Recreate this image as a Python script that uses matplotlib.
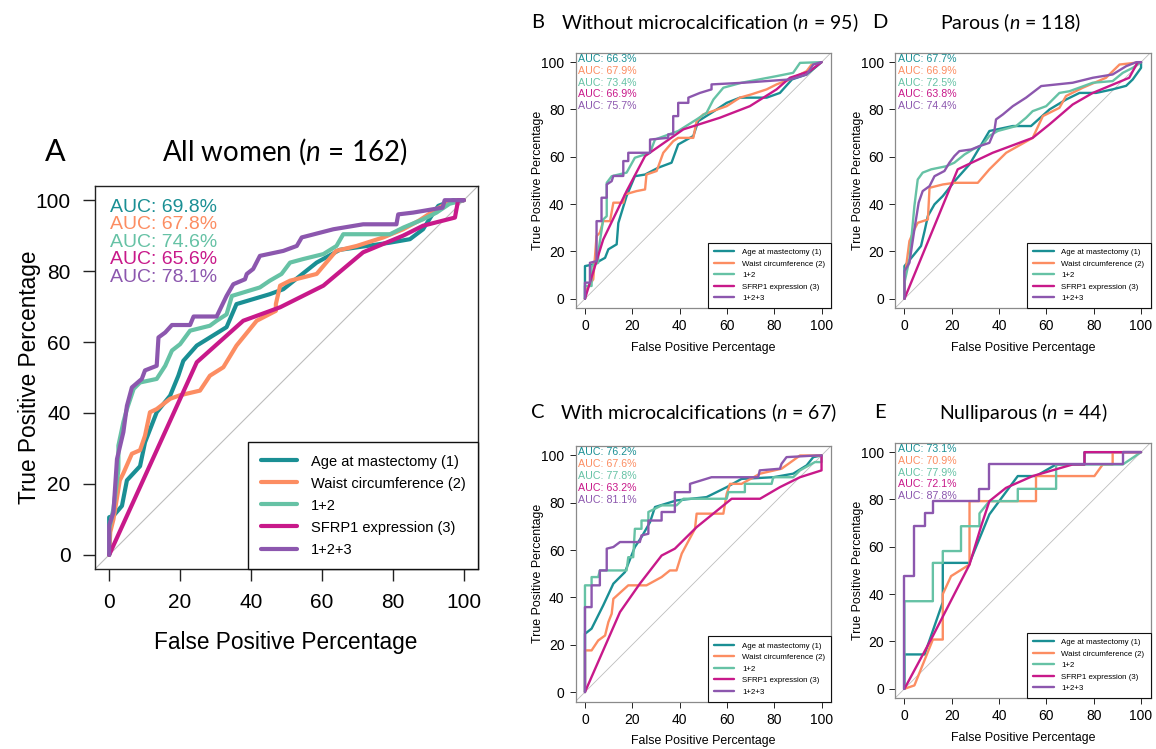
import matplotlib
matplotlib.use("Agg")
import matplotlib.pyplot as plt

W, H = 1156, 749
plt.rcParams["font.family"] = ["Liberation Sans", "DejaVu Sans"]
plt.rcParams["mathtext.fontset"] = "custom"
plt.rcParams["mathtext.rm"] = "Lato"
plt.rcParams["mathtext.it"] = "Lato:italic"

NAMES = ["Age at mastectomy (1)", "Waist circumference (2)", "1+2", "SFRP1 expression (3)", "1+2+3"]
COLORS = ["#1a8f94", "#fc8d62", "#66c2a5", "#c8198a", "#8c57ae"]
TICKS = [0, 20, 40, 60, 80, 100]

# ---- A: all women (n = 162) ----
a_age_x = [0, 0, 1.2, 3.6, 5, 8.7, 10.1, 13.4, 17.2, 19.5, 20.9, 24.7, 33.1, 35.9, 45.3, 49.1, 58.5, 65, 79, 84.8, 88.5, 90.9, 92.8, 97, 100]
a_age_y = [0, 10.6, 11, 13.8, 21, 25, 31.7, 40.2, 44.9, 50.5, 54.7, 59, 64.2, 70.7, 73.5, 74.9, 82.4, 86, 88, 89, 91.8, 95.6, 98.4, 100, 100]
a_waist_x = [0, 0.3, 1.2, 3, 4, 6.4, 8.7, 10.1, 11.5, 13.4, 17.2, 20, 25.6, 28.4, 32.2, 35.9, 41.6, 47, 47, 48.2, 51, 58.5, 64, 69.8, 77.3, 82.9, 87.3, 92.3, 95, 98, 100]
a_waist_y = [0, 6.4, 10, 21, 23, 28.5, 29.5, 33.6, 40.2, 41.1, 44, 45, 46.3, 50.5, 52.9, 59, 66, 68.8, 70.7, 75.9, 77.3, 79.2, 85.7, 87.1, 89.5, 91.8, 94.2, 97.5, 99, 100, 100]
a_c12_x = [0, 0, 1.2, 2.6, 2.6, 4, 5, 6.9, 8.7, 13.4, 15.8, 17.7, 20, 22.8, 28.4, 30.3, 33.1, 34.6, 42.5, 45.3, 48.6, 51, 54.7, 60.4, 64.1, 66, 79.2, 83, 88.5, 92.3, 96, 100]
a_c12_y = [0, 7.3, 13, 24, 30.8, 37.4, 41.1, 46.8, 48.6, 49.6, 53.3, 57.6, 59.4, 63.2, 64.6, 66, 67.8, 73, 75.4, 77.3, 79.2, 82.4, 83.4, 84.8, 87.1, 90.4, 90.4, 92.3, 94.6, 96.5, 99, 100]
a_sfrp_x = [0, 24.7, 37.8, 48.2, 60.4, 71.6, 82.9, 88.5, 97.5, 98.4, 100]
a_sfrp_y = [0, 54.3, 66, 69.8, 75.9, 85.3, 90, 92.8, 95.1, 100, 100]
a_c123_x = [0, 0, 1.2, 2.2, 4, 5, 6.4, 9.2, 10.1, 13.4, 13.9, 15.8, 17.7, 22.8, 23.8, 30.3, 33.1, 35, 38.3, 38.8, 40.6, 42.5, 49.1, 52.9, 54.3, 63.2, 71.6, 81, 81.5, 85.7, 94, 94.6, 100]
a_c123_y = [0, 8.3, 12, 27, 34.6, 42, 47.2, 49.6, 52, 53.3, 61.3, 62.7, 64.8, 64.8, 67.2, 67.2, 73, 76.3, 77.7, 79.2, 80.6, 84.3, 85.7, 87.1, 89.5, 91.8, 93.2, 93.2, 96, 96.5, 97.9, 100, 100]
a_auc = [69.8, 67.8, 74.6, 65.6, 78.1]

# ---- B: without microcalcification (n = 95) ----
b_age_x = [0, 0, 3.5, 8.5, 9.9, 13.4, 14.1, 17.6, 21.1, 25.4, 31, 36.6, 39.4, 45.8, 47.9, 53.5, 59.9, 65.5, 76.8, 82.4, 87.5, 93.7, 98, 100]
b_age_y = [0, 13.8, 14.5, 17.3, 20.9, 23, 32, 43.4, 51.8, 52.5, 55.4, 57.5, 65.2, 68.8, 75.1, 78.6, 82.8, 85, 85, 87, 92.7, 94.8, 98.3, 100]
b_waist_x = [0, 0.7, 3.5, 4.9, 6.3, 7.7, 10.6, 12, 16.2, 16.9, 21.8, 25.4, 26, 30.3, 33.1, 37.3, 39.4, 45.8, 47.2, 50, 59.9, 65.5, 70.4, 76.8, 81, 86.6, 93.7, 95.8, 100]
b_waist_y = [0, 4, 8.2, 26.5, 27.9, 32.8, 32.8, 40.6, 40.6, 44.1, 45.5, 46.2, 52.5, 54, 61.7, 66.6, 68, 68, 75.1, 77.9, 81.4, 85, 86.4, 88.5, 90.6, 92.7, 96.2, 99, 100]
b_c12_x = [0, 0, 2.8, 2.8, 5.6, 5.6, 7.7, 9.2, 9.2, 11.3, 17.6, 21.1, 27.5, 29.6, 39.4, 47.2, 51.4, 54.3, 58.5, 66.2, 81, 88, 90.9, 100]
b_c12_y = [0, 5.4, 5.4, 13.8, 15.2, 19.4, 33.5, 34.9, 49, 51.8, 53.3, 59.6, 61.7, 67.3, 70.9, 75.8, 78.6, 84.2, 89.2, 91.3, 94.1, 95.5, 99.7, 100]
b_sfrp_x = [0, 7.7, 17.6, 25.4, 41.6, 57, 69.7, 81, 86.6, 95, 100]
b_sfrp_y = [0, 25, 45.5, 60.3, 71.6, 76.5, 81.4, 88.5, 93.4, 96.2, 100]
b_c123_x = [0, 0, 2.1, 2.1, 4.9, 4.9, 7, 7, 9.2, 9.2, 11.3, 12, 16.2, 16.2, 18.3, 18.3, 27.5, 27.5, 35.2, 35.2, 37.3, 37.3, 39.4, 39.4, 43.7, 43.7, 48.6, 53.5, 53.5, 66.9, 86.6, 93.7, 96.5, 100]
b_c123_y = [0, 6.8, 6.8, 15.2, 15.9, 32.8, 32.8, 42.7, 42.7, 48.3, 49.7, 51.9, 51.9, 58.2, 58.2, 61.7, 61.7, 67.3, 68, 69.5, 69.5, 77.2, 77.2, 82.8, 82.8, 85, 87, 88.5, 90.6, 91.3, 92.7, 94.8, 99, 100]
b_auc = [66.3, 67.9, 73.4, 66.9, 75.7]

# ---- C: with microcalcifications (n = 67) ----
c_age_x = [0, 0, 2.8, 7.7, 12, 16.9, 21.1, 23.9, 27.5, 29.6, 38.7, 51.4, 59.9, 66.2, 79.6, 88, 93.7, 96.5, 100]
c_age_y = [0, 24.6, 26.8, 36.6, 45.8, 50.7, 61.3, 65.5, 71.8, 78.2, 81, 82.4, 86.6, 90.1, 90.8, 92.3, 95.8, 99.3, 100]
c_waist_x = [0, 0, 2.8, 5.6, 8.5, 9.9, 11.3, 12, 18.3, 26, 32.4, 35.9, 38.7, 40.9, 46.5, 47.2, 58.5, 59.9, 61.3, 66.2, 74, 83.1, 88, 90.9, 100]
c_waist_y = [0, 17.6, 17.6, 21.8, 23.9, 29.6, 33.1, 39.4, 45.1, 45.1, 48.6, 51.4, 51.4, 58.5, 69, 75.4, 75.4, 83.8, 88, 88, 92.3, 94.4, 97.9, 100, 100]
c_c12_x = [0, 0, 2.8, 2.8, 5.6, 6.3, 17.6, 18.3, 20.4, 21.1, 23.9, 23.9, 26.8, 26.8, 32.4, 38.7, 41.6, 59.9, 60.6, 67.6, 67.6, 78.9, 79.6, 88, 90.9, 97.2, 100, 100]
c_c12_y = [0, 45.1, 45.1, 48.6, 48.6, 51.4, 51.4, 57, 57, 69, 69, 72.5, 72.5, 76.1, 78.9, 78.9, 81.7, 81.7, 84.5, 84.5, 88, 88, 90.8, 90.8, 93.7, 97.2, 97.2, 100]
c_sfrp_x = [0, 14.8, 23.2, 32.4, 38, 47.2, 62, 74, 82.4, 90.9, 100, 100]
c_sfrp_y = [0, 33.8, 45.8, 57.7, 60.6, 69.7, 81.7, 81.7, 86.6, 90.8, 93.7, 100]
c_c123_x = [0, 0, 2.8, 2.8, 6.3, 6.3, 9.2, 9.2, 12, 14.8, 23.2, 23.9, 26.8, 26.8, 32.4, 32.4, 38, 38, 44.4, 44.4, 53.5, 73.2, 73.9, 82.4, 83.1, 85.2, 98, 100]
c_c123_y = [0, 35.9, 35.9, 45.1, 45.1, 51.4, 51.4, 60.6, 61.3, 63.4, 63.4, 66.2, 66.9, 72.5, 72.5, 76.1, 76.1, 84.5, 84.5, 88, 90.8, 90.8, 93.7, 94.4, 96.5, 99.3, 100, 100]
c_auc = [76.2, 67.6, 77.8, 63.2, 81.1]

# ---- D: parous (n = 118) ----
d_age_x = [0, 0, 3.5, 7, 8.5, 9.9, 12.7, 16.2, 21.8, 27.5, 35.9, 45.8, 53.5, 61.3, 68.3, 74, 81, 88, 93.7, 96.5, 100, 100]
d_age_y = [0, 13.8, 18, 22.3, 28.6, 35, 39.9, 43.4, 50.4, 56.8, 70.9, 73, 73, 80, 84.2, 87, 87, 88.5, 90, 92.7, 97.6, 100]
d_waist_x = [0, 0, 2.1, 4.2, 5.6, 9.9, 10.6, 16.2, 21.1, 31, 35.9, 43, 54.2, 58.5, 65.5, 68.3, 75.4, 85.2, 90.9, 100]
d_waist_y = [0, 8.2, 24.4, 29.3, 32.1, 33.5, 46.9, 48.3, 49, 49, 54.7, 61.7, 68, 77.2, 80.7, 85.7, 89.2, 93.4, 99, 100]
d_c12_x = [0, 0, 2.1, 4.2, 5.6, 7.7, 11.3, 17.6, 21.1, 25.4, 28.9, 33.1, 35.9, 39.4, 47.2, 51.4, 54.2, 59.9, 65.5, 69.7, 79.6, 88, 92.3, 96.5, 100]
d_c12_y = [0, 6.8, 16.6, 39.2, 50.4, 53.3, 54.7, 56, 57.5, 61, 63.1, 65.2, 68.8, 70.9, 73, 76.5, 79.3, 81.4, 87, 87.7, 91.3, 92, 95.5, 97.6, 100]
d_sfrp_x = [0, 22.5, 37.3, 54.2, 61.3, 71.1, 79.6, 95, 98.6, 100]
d_sfrp_y = [0, 54.7, 61.7, 68, 73.7, 82.1, 87, 93.4, 100, 100]
d_c123_x = [0, 0, 2.1, 4.2, 6, 7.7, 10.6, 12.7, 16.9, 19, 21.1, 23.2, 28.2, 31.7, 35.9, 38, 38.7, 41.6, 45.8, 51.4, 57.8, 71.1, 79.6, 88, 93.7, 98, 100]
d_c123_y = [0, 11.7, 15.2, 29.3, 40.6, 45.5, 47.6, 51.8, 54, 57.5, 60.3, 62.4, 63.1, 64.5, 65.9, 70.9, 75.8, 77.9, 81.4, 85, 89.9, 91.3, 93.4, 94.8, 98.3, 100, 100]
d_auc = [67.7, 66.9, 72.5, 63.8, 74.4]

# ---- E: nulliparous (n = 44) ----
e_age_x = [0, 0, 8.5, 16.2, 16.2, 27.5, 35.9, 47.9, 55.6, 64.1, 76.1, 76.1, 100]
e_age_y = [0, 14.5, 14.5, 36.6, 53.2, 53.2, 73.7, 89.9, 89.9, 94.8, 94.8, 100, 100]
e_waist_x = [0, 4.2, 12, 16.2, 16.2, 19.7, 27.5, 27.5, 55.6, 55.6, 80.3, 83.8, 88, 88, 100]
e_waist_y = [0, 1.4, 20.8, 20.8, 40, 47.6, 52.5, 79.3, 79.3, 89.9, 89.9, 94.8, 94.8, 100, 100]
e_c12_x = [0, 0, 12, 12, 16.2, 16.2, 23.9, 23.9, 31.7, 31.7, 35.9, 47.9, 47.9, 64.1, 64.1, 92.3, 100]
e_c12_y = [0, 37, 37, 53.2, 53.2, 58.2, 58.2, 68.7, 68.7, 74.1, 79.3, 79.3, 84.5, 84.5, 94.8, 94.8, 100]
e_sfrp_x = [0, 12, 27.5, 32.4, 35.9, 42.9, 54.2, 71.1, 76.1, 76.1, 100]
e_sfrp_y = [0, 22.3, 52.5, 68.7, 79.3, 84.9, 89.9, 94.8, 94.8, 100, 100]
e_c123_x = [0, 0, 4.2, 4.2, 8.5, 8.5, 12, 12, 31.7, 31.7, 35.9, 35.9, 92.3, 92.3, 100]
e_c123_y = [0, 47.6, 47.6, 68.7, 68.7, 74.1, 74.1, 79.3, 79.3, 84.5, 84.5, 95.1, 95.1, 100, 100]
e_auc = [73.1, 70.9, 77.9, 72.1, 87.8]


def box(x0, y0, x1, y1):
    """pixel box (top-left origin) -> figure-fraction rect"""
    return [x0 / W, 1 - y1 / H, (x1 - x0) / W, (y1 - y0) / H]


def fxy(x, y):
    return x / W, 1 - y / H


def panel(ax, curves, aucs, big):
    lw = 3.0 if big else 1.7
    ax.set_xlim(-4, 104); ax.set_ylim(-4, 104)
    ax.plot([-4, 104], [-4, 104], color="#bdbdbd", lw=0.8 if big else 0.6, zorder=1)
    for (x, y), c, name in zip(curves, COLORS, NAMES):
        ax.plot(x, y, color=c, lw=lw, label=name, solid_joinstyle="round", solid_capstyle="round", zorder=2)
    for i, (v, c) in enumerate(zip(aucs, COLORS)):
        if big:
            ax.text(0.3, 98 - 4.95 * i, f"AUC: {v:.1f}%", color=c, fontsize=14, va="center", ha="left")
        else:
            ax.text(-2.9, 101.5 - 5.05 * i, f"AUC: {v:.1f}%", color=c, fontsize=7.7, va="center", ha="left")
    ax.set_xticks(TICKS); ax.set_yticks(TICKS)
    spine = "#222222" if big else "#8a8a8a"
    for sp in ax.spines.values():
        sp.set_color(spine); sp.set_linewidth(1.0 if big else 0.9)
    ax.tick_params(direction="out", length=8.5 if big else 4, width=1.0 if big else 0.7, color="#222222",
                   labelsize=15 if big else 10, pad=9 if big else 4)
    if big:
        leg = ax.legend(loc="lower right", bbox_to_anchor=(1, 0), borderaxespad=0, fancybox=False,
                        framealpha=1, edgecolor="#111111", fontsize=10.5, handlelength=2.5,
                        handletextpad=0.95, labelspacing=0.55, borderpad=0.85)
    else:
        leg = ax.legend(loc="lower right", bbox_to_anchor=(1, 0), borderaxespad=0, fancybox=False,
                        framealpha=1, edgecolor="#111111", fontsize=5.7, handlelength=2.55,
                        handletextpad=1.0, labelspacing=0.5, borderpad=0.75)
    leg.get_frame().set_linewidth(1.0 if big else 0.8)


fig = plt.figure(figsize=(W / 100, H / 100), dpi=100)

panels = [
    ("A", box(95, 186, 478, 569), [(a_age_x, a_age_y), (a_waist_x, a_waist_y), (a_c12_x, a_c12_y),
                                   (a_sfrp_x, a_sfrp_y), (a_c123_x, a_c123_y)], a_auc, True),
    ("B", box(575.5, 52.7, 831, 308.2), [(b_age_x, b_age_y), (b_waist_x, b_waist_y), (b_c12_x, b_c12_y),
                                         (b_sfrp_x, b_sfrp_y), (b_c123_x, b_c123_y)], b_auc, False),
    ("D", box(895, 52.7, 1150.5, 308.2), [(d_age_x, d_age_y), (d_waist_x, d_waist_y), (d_c12_x, d_c12_y),
                                          (d_sfrp_x, d_sfrp_y), (d_c123_x, d_c123_y)], d_auc, False),
    ("C", box(575.5, 446, 831, 701.5), [(c_age_x, c_age_y), (c_waist_x, c_waist_y), (c_c12_x, c_c12_y),
                                        (c_sfrp_x, c_sfrp_y), (c_c123_x, c_c123_y)], c_auc, False),
    ("E", box(895, 442.7, 1150.5, 698.2), [(e_age_x, e_age_y), (e_waist_x, e_waist_y), (e_c12_x, e_c12_y),
                                          (e_sfrp_x, e_sfrp_y), (e_c123_x, e_c123_y)], e_auc, False),
]
for key, rect, curves, aucs, big in panels:
    ax = fig.add_axes(rect)
    panel(ax, curves, aucs, big)

# axis labels
fig.text(*fxy(30, 377), "True Positive Percentage", rotation=90, fontsize=16.3, ha="center", va="center")
fig.text(*fxy(286, 642), "False Positive Percentage", fontsize=16.3, ha="center", va="center")
for cx, cy in [(703, 180), (1023, 180), (703, 573), (1023, 570)]:
    fig.text(*fxy(cx - 165, cy), "True Positive Percentage", rotation=90, fontsize=8.9, ha="center", va="center")
    fig.text(*fxy(cx, cy + 168), "False Positive Percentage", fontsize=8.9, ha="center", va="center")

# titles
tf = dict(family=["Lato", "DejaVu Sans"], va="center")
fig.text(*fxy(55, 152), "A", fontsize=22, ha="center", **tf)
fig.text(*fxy(285, 152), "All women ($n$ = 162)", fontsize=20, ha="center", **tf)
fig.text(*fxy(538, 23), "B", fontsize=14.5, ha="center", **tf)
fig.text(*fxy(561, 23), "Without microcalcification ($n$ = 95)", fontsize=14.0, ha="left", **tf)
fig.text(*fxy(880, 23), "D", fontsize=14.5, ha="center", **tf)
fig.text(*fxy(1011, 23), "Parous ($n$ = 118)", fontsize=14, ha="center", **tf)
fig.text(*fxy(538, 413), "C", fontsize=14.5, ha="center", **tf)
fig.text(*fxy(560, 413), "With microcalcifications ($n$ = 67)", fontsize=14.0, ha="left", **tf)
fig.text(*fxy(880, 413), "E", fontsize=14.5, ha="center", **tf)
fig.text(*fxy(1023, 413), "Nulliparous ($n$ = 44)", fontsize=14, ha="center", **tf)

fig.savefig("out.png", dpi=100)
